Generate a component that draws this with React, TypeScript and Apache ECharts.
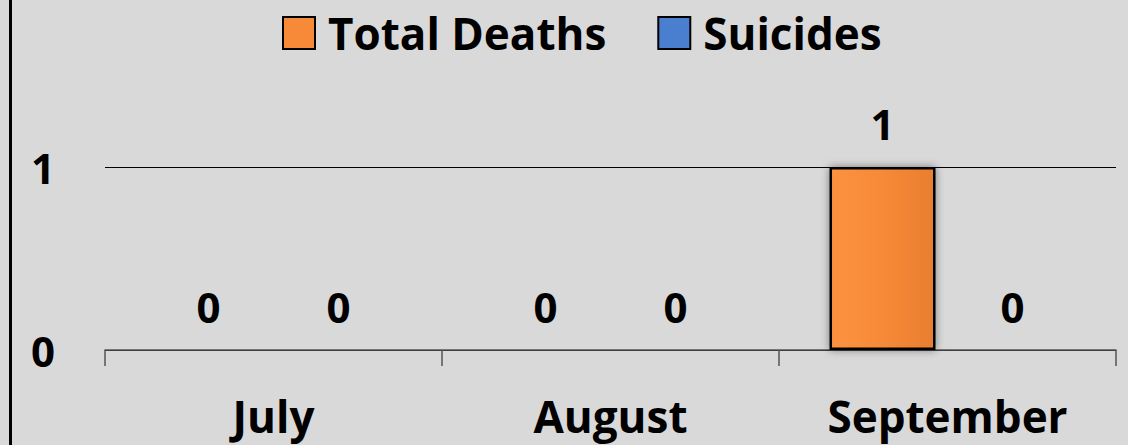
import React, { useEffect, useRef } from "react";
import * as echarts from "echarts";

const categories = ["July", "August", "September"];
const totalDeaths = [0, 0, 1];
const suicides = [0, 0, 0];
const yTicks = [0, 1];

const FONT = "'Open Sans', 'Noto Sans', sans-serif";

export default function App() {
  const ref = useRef<HTMLDivElement>(null);
  useEffect(() => {
    if (!ref.current) return;
    const chart = echarts.init(ref.current, null, { renderer: "svg" });
    const labelStyle = {
      show: true,
      position: "top" as const,
      distance: 23,
      fontFamily: FONT,
      fontWeight: "bold" as const,
      fontSize: 42,
      color: "#000",
    };
    const orangeFill = {
      type: "linear",
      x: 0,
      y: 0,
      x2: 1,
      y2: 0,
      colorStops: [
        { offset: 0, color: "#fb9240" },
        { offset: 0.5, color: "#f78a38" },
        { offset: 1, color: "#e97d31" },
      ],
    };
    const toItems = (arr: number[]) =>
      arr.map((v) => (v === 0 ? { value: v, itemStyle: { borderWidth: 0, shadowBlur: 0 } } : { value: v }));
    chart.setOption({
      animation: false,
      backgroundColor: "#d9d9d9",
      textStyle: { fontFamily: FONT },
      graphic: [
        {
          type: "rect",
          shape: { x: 9, y: 0, width: 3, height: 445 },
          style: { fill: "#000" },
        },
      ],
      legend: {
        left: 277,
        top: 6,
        itemWidth: 32,
        itemHeight: 32,
        itemGap: 51,
        icon: "rect",
        textStyle: {
          fontFamily: FONT,
          fontWeight: "bold",
          fontSize: 44,
          color: "#000",
          padding: [0, 0, 0, 8],
        },
        data: [
          { name: "Total Deaths", itemStyle: { color: "#f68a38", borderColor: "#000", borderWidth: 2 } },
          { name: "Suicides", itemStyle: { color: "#4a7fcf", borderColor: "#000", borderWidth: 2 } },
        ],
      },
      grid: { left: 105, right: 12, top: 167, bottom: 95, containLabel: false },
      xAxis: {
        type: "category",
        data: categories,
        axisLine: { show: true, lineStyle: { color: "#555", width: 1.5 } },
        axisTick: { show: true, length: 16, lineStyle: { color: "#555", width: 1.5 } },
        axisLabel: {
          margin: 44,
          fontFamily: FONT,
          fontWeight: "bold",
          fontSize: 44,
          lineHeight: 44,
          color: "#000",
        },
      },
      yAxis: {
        type: "value",
        min: yTicks[0],
        max: yTicks[yTicks.length - 1],
        interval: 1,
        axisLine: { show: false },
        axisTick: { show: false },
        splitLine: { show: true, lineStyle: { color: "#000", width: 1.2 } },
        axisLabel: {
          margin: 50,
          fontFamily: FONT,
          fontWeight: "bold",
          fontSize: 42,
          color: "#000",
        },
      },
      series: [
        {
          name: "Total Deaths",
          type: "bar",
          data: toItems(totalDeaths),
          barWidth: 106,
          barGap: "22.6%",
          itemStyle: {
            color: orangeFill,
            borderColor: "#000",
            borderWidth: 2.5,
            shadowBlur: 8,
            shadowColor: "rgba(0,0,0,0.45)",
          },
          label: labelStyle,
        },
        {
          name: "Suicides",
          type: "bar",
          data: toItems(suicides),
          barWidth: 106,
          itemStyle: {
            color: "#4a7fcf",
            borderColor: "#000",
            borderWidth: 2.5,
          },
          label: labelStyle,
        },
      ],
    });
    return () => chart.dispose();
  }, []);
  return (
    <div
      ref={ref}
      style={{ position: "fixed", left: 0, top: 0, width: 1128, height: 445 }}
    />
  );
}
